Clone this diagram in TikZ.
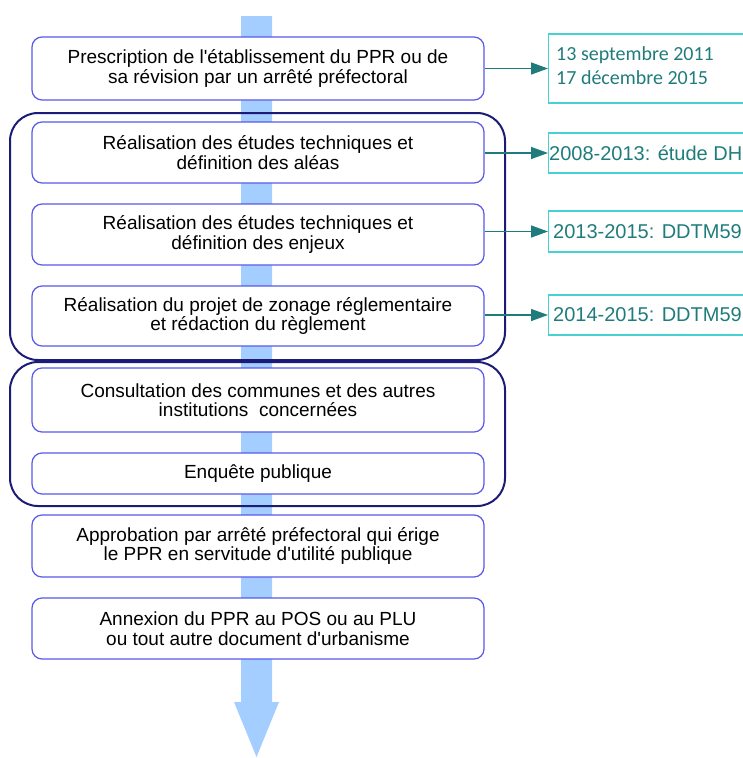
\documentclass[tikz,border=0pt]{standalone}
\usepackage{fontspec}
\setmainfont{Liberation Sans}
\newfontfamily\calib{Carlito}
\usetikzlibrary{arrows.meta}
\definecolor{stepline}{RGB}{88,88,235}
\definecolor{groupline}{RGB}{28,28,120}
\definecolor{flowblue}{RGB}{164,206,255}
\definecolor{dateline}{RGB}{70,210,210}
\definecolor{datetext}{RGB}{32,124,124}
\newcommand{\ap}{\textquotesingle}

\begin{document}
\begin{tikzpicture}[x=1pt,y=-1pt,
    stepbox/.style={draw=stepline, line width=1.2pt, fill=white, rounded corners=10pt,
      minimum width=452pt, inner sep=0pt, align=center, font=\fontsize{19}{19.5}\selectfont},
    groupbox/.style={draw=groupline, line width=2pt, rounded corners=28pt},
    datebox/.style={draw=dateline, line width=1.2pt, anchor=west, minimum width=200pt, inner sep=0pt},
    datetxt/.style={text=datetext, inner sep=0pt, align=left},
    datearrow/.style={draw=datetext, line width=1.5pt, -{Triangle[length=17pt,width=12pt]}}]
    \useasboundingbox (0,0) rectangle (742,758);
    % main flow arrow
    \fill [flowblue] (241,16) -- (272,16) -- (272,702) -- (279,702) -- (256.5,757)
      -- (234,702) -- (241,702) -- cycle;
    % groups
    \draw [groupbox] (10,113) rectangle (505,360);
    \draw [groupbox] (10,362) rectangle (505,506);
    % steps
    \node [stepbox, minimum height=63pt] (b1) at (258,68.5) {Prescription de l\ap{}établissement du PPR ou de\\sa révision par un arrêté préfectoral};
    \node [stepbox, minimum height=61pt] (b2) at (258,152.5) {Réalisation des études techniques et\\définition des aléas};
    \node [stepbox, minimum height=61pt] (b3) at (258,234.5) {Réalisation des études techniques et\\définition des enjeux};
    \node [stepbox, minimum height=60pt] (b4) at (258,316) {Réalisation du projet de zonage réglementaire\\et rédaction du règlement};
    \node [stepbox, minimum height=64pt] (b5) at (258,400) {Consultation des communes et des autres\\institutions\ \ concernées};
    \node [stepbox, minimum height=41pt] (b6) at (258,473.5) {Enquête publique};
    \node [stepbox, minimum height=62pt] (b7) at (258,546) {Approbation par arrêté préfectoral qui érige\\le PPR en servitude d\ap{}utilité publique};
    \node [stepbox, minimum height=61pt] (b8) at (258,628.5) {Annexion du PPR au POS ou au PLU\\ou tout autre document d\ap{}urbanisme};
    % dates
    \node [datebox, minimum height=69pt] (r1) at (548,68.5) {};
    \node [datetxt, anchor=north west, font=\calib\fontsize{20}{24}\selectfont] (r1t) at (556,46) {13 septembre 2011\\17 décembre 2015};
    \node [datebox, minimum height=40pt] (r2) at (548,153) {};
    \node [datetxt, anchor=west, font=\fontsize{20}{24}\selectfont] (r2t) at (549,153) {2008-2013: étude DH};
    \node [datebox, minimum height=41pt] (r3) at (548,231.5) {};
    \node [datetxt, anchor=west, font=\fontsize{20}{24}\selectfont] (r3t) at (553,231.5) {2013-2015: DDTM59};
    \node [datebox, minimum height=40pt] (r4) at (548,315) {};
    \node [datetxt, anchor=west, font=\fontsize{20}{24}\selectfont] (r4t) at (553,315) {2014-2015: DDTM59};
    \draw [datearrow] (b1.east |- r1) -- (r1.west);
    \draw [datearrow] (b2.east |- r2) -- (r2.west);
    \draw [datearrow] (b3.east |- r3) -- (r3.west);
    \draw [datearrow] (b4.east |- r4) -- (r4.west);
\end{tikzpicture}
\end{document}
